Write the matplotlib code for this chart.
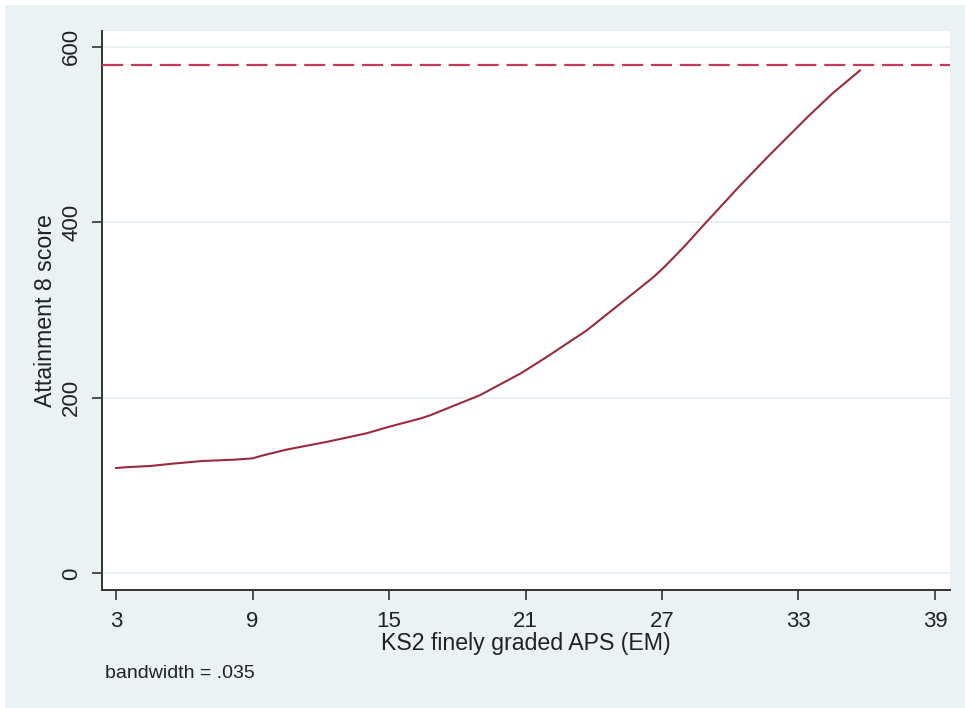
import matplotlib
matplotlib.use("Agg")
import matplotlib.pyplot as plt
from matplotlib.patches import Rectangle

# Smoothed attainment curve against KS2 prior attainment
ks2_aps = [3.0, 3.5, 4.5, 5.5, 6.8, 8.2, 9.0, 9.4, 10.5, 12.3, 14.0, 15.0,
           16.4, 16.8, 19.0, 20.8, 21.9, 23.7, 25.2, 26.6, 27.1, 28.0,
           28.8, 30.4, 31.7, 33.4, 34.5, 35.7]
attainment8 = [120, 121, 122.3, 125, 128, 129.5, 131, 134, 141, 150,
               159.5, 167, 176.6, 180, 203, 228, 246, 277, 308, 337, 349,
               373, 396, 441, 476, 520, 547, 573]
max_score = 579

x_ticks = [3, 9, 15, 21, 27, 33, 39]
y_ticks = [0, 200, 400, 600]
x_title = "KS2 finely graded APS (EM)"
y_title = "Attainment 8 score"
note = "bandwidth = .035"

plt.rcParams["font.family"] = ["Liberation Sans", "DejaVu Sans"]

bg = "#EAF2F3"
axis_col = "#333333"
fig = plt.figure(figsize=(9.65, 7.08), dpi=100, facecolor="white")
fig.patches.append(Rectangle((5 / 965, 0), 1, 1 - 5 / 708, transform=fig.transFigure,
                             facecolor=bg, edgecolor="none", zorder=-10))

ax = fig.add_axes([101.7 / 965, 118 / 708, (950 - 101.7) / 965, (590 - 31) / 708])
ax.set_facecolor("white")
ax.set_xlim(2.37, 39.66)
ax.set_ylim(-19, 618)

for yv in y_ticks:
    ax.axhline(yv, color="#E6EFF1", lw=1.2, zorder=1)

ax.plot(ks2_aps, attainment8, color="#9A2B3C", lw=1.5, zorder=3)
ax.axhline(max_score, color="#C83A5C", lw=1.6, dashes=(9.5, 3.5), zorder=3)

for s in ["top", "right"]:
    ax.spines[s].set_visible(False)
for s in ["left", "bottom"]:
    ax.spines[s].set_color(axis_col)
    ax.spines[s].set_linewidth(1.4)

ax.set_xticks(x_ticks)
ax.set_yticks(y_ticks)
ax.tick_params(axis="both", colors=axis_col, length=7, width=1.2, labelsize=16,
               labelcolor="#222222")
ax.tick_params(axis="x", pad=8)
ax.tick_params(axis="y", pad=7)
for lab in ax.get_yticklabels():
    lab.set_rotation(90)
    lab.set_va("center")

ax.set_xlabel(x_title, fontsize=16.7, color="#222222", labelpad=0)
ax.set_ylabel(y_title, fontsize=16.7, color="#222222", labelpad=3)

fig.text(105 / 965, 1 - 673 / 708, note, fontsize=14, color="#222222",
         ha="left", va="center")

fig.savefig("out.png", dpi=100, facecolor=fig.get_facecolor())
